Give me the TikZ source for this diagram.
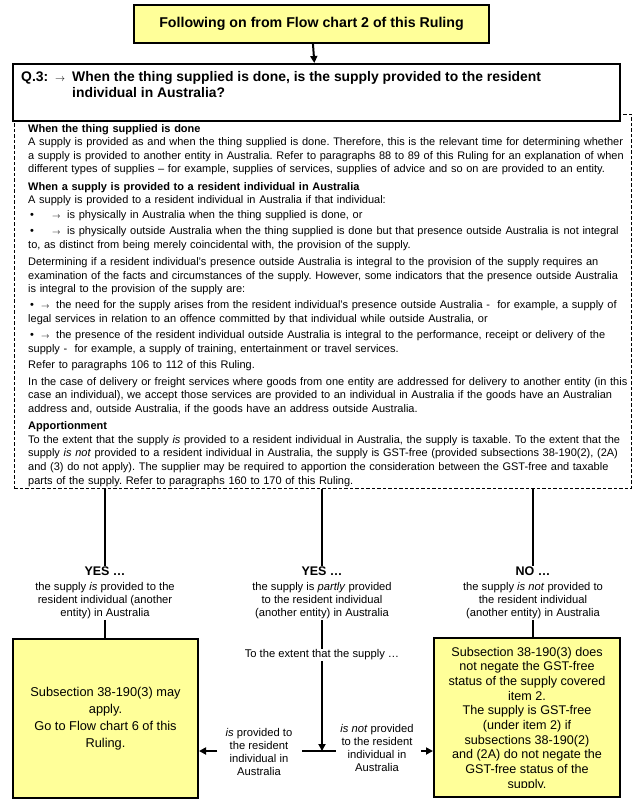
\documentclass[tikz,border=0pt]{standalone}
\usepackage{fontspec}
\setmainfont{Liberation Sans}
\usetikzlibrary{arrows.meta,positioning}
\definecolor{boxyellow}{RGB}{255,255,153}
\tikzset{
  yellowbox/.style={draw,line width=2pt,fill=boxyellow,align=center,inner sep=2pt},
  bodytext/.style={anchor=north west,inner sep=0pt,align=left,font=\fontsize{11}{13.6}\selectfont},
  branchtext/.style={anchor=north,inner sep=1pt,align=center,font=\fontsize{11.2}{13}\selectfont},
  sidetext/.style={inner sep=1pt,align=center,font=\fontsize{11.2}{12.7}\selectfont},
  link/.style={line width=2pt},
  arrowlink/.style={line width=2pt,-{Triangle[length=7pt,width=7pt]}},
}
\newcommand{\smallarrow}{$\scriptstyle\rightarrow$}
\newcommand{\bulletarrow}[2]{\makebox[#1][l]{\hspace{2pt}•}\makebox[#2][l]{\smallarrow}}
\begin{document}
\frenchspacing
\begin{tikzpicture}[x=1pt,y=-1pt]
  \useasboundingbox (0,0) rectangle (643,807);
  % --- riquadro tratteggiato con la spiegazione ---
  \node[draw,dash pattern=on 3.5pt off 2pt,line width=0.8pt,anchor=north west,inner sep=0pt,
        minimum width=617pt,minimum height=374pt] (expbox) at (14,114) {};
  % --- riquadro di partenza e domanda ---
  \node[yellowbox,minimum width=355pt,minimum height=38pt,
        font=\bfseries\fontsize{14.2}{16}\selectfont] (start) at (311.5,24)
        {Following on from Flow chart 2 of this Ruling};
  \node[draw,line width=2pt,fill=white,anchor=north west,inner sep=0pt,
        minimum width=607pt,minimum height=57pt] (question) at (12,63) {};
  \node[anchor=north west,inner sep=0pt,align=left,
        font=\bfseries\fontsize{13.9}{16}\selectfont] (qtext) at (21,70.8)
        {\makebox[34pt][l]{Q.3:}\makebox[17pt][l]{\smallarrow}When the thing supplied is done, is the supply provided to the resident\\
         \hspace*{51pt}individual in Australia?};
  \draw[arrowlink] (start) -- (question);
  % --- testo esplicativo ---
  \node[bodytext,text width=612pt] (exptext) at (28,124) {%
    \textbf{When the thing supplied is done}\\
    A supply is provided as and when the thing supplied is done. Therefore, this is the relevant time for determining whether\\
    a supply is provided to another entity in Australia. Refer to paragraphs 88 to 89 of this Ruling for an explanation of when\\
    different types of supplies -- for example, supplies of services, supplies of advice and so on are provided to an entity.\par
    \vspace{3.5pt}
    \textbf{When a supply is provided to a resident individual in Australia}\\
    A supply is provided to a resident individual in Australia if that individual:\par
    \vspace{1.5pt}
    \hangindent=39pt\hangafter=1
    \bulletarrow{24pt}{15pt}is physically in Australia when the thing supplied is done, or\par
    \vspace{2.5pt}
    \hangindent=39pt\hangafter=1
    \bulletarrow{24pt}{15pt}is physically outside Australia when the thing supplied is done but that presence outside Australia is not integral\\
    to, as distinct from being merely coincidental with, the provision of the supply.\par
    \vspace{3.5pt}
    Determining if a resident individual's presence outside Australia is integral to the provision of the supply requires an\\
    examination of the facts and circumstances of the supply. However, some indicators that the presence outside Australia\\
    is integral to the provision of the supply are:\par
    \vspace{2.5pt}
    \hangindent=28pt\hangafter=1
    \bulletarrow{13pt}{15pt}the need for the supply arises from the resident individual's presence outside Australia -\ \ for example, a supply of\\
    legal services in relation to an offence committed by that individual while outside Australia, or\par
    \vspace{2.5pt}
    \hangindent=28pt\hangafter=1
    \bulletarrow{13pt}{15pt}the presence of the resident individual outside Australia is integral to the performance, receipt or delivery of the\\
    supply -\ \ for example, a supply of training, entertainment or travel services.\par
    \vspace{3pt}
    Refer to paragraphs 106 to 112 of this Ruling.\par
    \vspace{3pt}
    In the case of delivery or freight services where goods from one entity are addressed for delivery to another entity (in this\\
    case an individual), we accept those services are provided to an individual in Australia if the goods have an Australian\\
    address and, outside Australia, if the goods have an address outside Australia.\par
    \vspace{3.5pt}
    \textbf{Apportionment}\\
    To the extent that the supply \textit{is} provided to a resident individual in Australia, the supply is taxable. To the extent that the\\
    supply \textit{is not} provided to a resident individual in Australia, the supply is GST-free (provided subsections 38-190(2), (2A)\\
    and (3) do not apply). The supplier may be required to apportion the consideration between the GST-free and taxable\\
    parts of the supply. Refer to paragraphs 160 to 170 of this Ruling.};
  % --- le tre risposte ---
  \node[branchtext] (yesis) at (105,565.5)
        {{\bfseries\fontsize{12.5}{14}\selectfont YES \dots}\\[2pt]the supply \textit{is} provided to the\\resident individual (another\\entity) in Australia};
  \node[branchtext] (yespartly) at (322,565.5)
        {{\bfseries\fontsize{12.5}{14}\selectfont YES \dots}\\[2pt]the supply is \textit{partly} provided\\to the resident individual\\(another entity) in Australia};
  \node[branchtext] (nonot) at (533,565.5)
        {{\bfseries\fontsize{12.5}{14}\selectfont NO \dots}\\[2pt]the supply \textit{is not} provided to\\the resident individual\\(another entity) in Australia};
  \foreach \ans in {yesis,yespartly,nonot}
    \draw[link] (\ans.north |- expbox.south) -- (\ans.north);
  % --- riquadri finali ---
  \node[yellowbox,anchor=north west,minimum width=185pt,minimum height=159pt,
        font=\fontsize{12.8}{17}\selectfont] (mayapply) at (12,638)
        {Subsection 38-190(3) may\\apply.\\Go to Flow chart 6 of this\\Ruling.};
  \node[yellowbox,anchor=north west,minimum width=186pt,minimum height=159pt] (notnegate) at (433,637) {};
  \begin{scope}
    \clip (434,638) rectangle (618,787);
    \node[anchor=north,inner sep=0pt,align=center,font=\fontsize{12.6}{14.67}\selectfont] (notnegatetext) at (527,646.8)
          {Subsection 38-190(3) does\\not negate the GST-free\\status of the supply covered\\item 2.\\The supply is GST-free\\(under item 2) if\\subsections 38-190(2)\\and (2A) do not negate the\\GST-free status of the\\supply.};
  \end{scope}
  \draw[link] (yesis.south) -- (mayapply.north -| yesis.south);
  \draw[link] (nonot.south) -- (notnegate.north -| nonot.south);
  % --- ripartizione della fornitura ---
  \node[sidetext] (extent) at (322,655) {To the extent that the supply \dots};
  \coordinate (split) at (322,751);
  \draw[link] (yespartly.south) -- (extent.north);
  \draw[arrowlink] (extent.south) -- (split);
  \draw[link] ([xshift=-20pt]split) -- ([xshift=14pt]split);
  \node[sidetext] (provided) at (259,752) {\textit{is} provided to\\the resident\\individual in\\Australia};
  \node[sidetext] (notprovided) at (377,748) {\textit{is not} provided\\to the resident\\individual in\\Australia};
  \draw[arrowlink,shorten <=7pt] (provided.west |- split) -- (split -| mayapply.east);
  \draw[arrowlink,shorten <=6pt] (notprovided.east |- split) -- (split -| notnegate.west);
\end{tikzpicture}
\end{document}
